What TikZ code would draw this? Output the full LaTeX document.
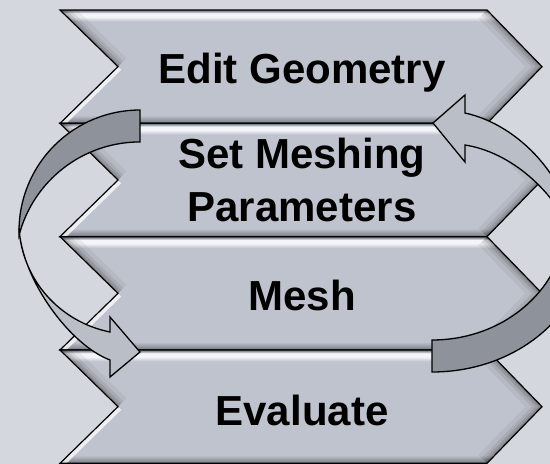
\documentclass[tikz,border=0pt]{standalone}
\usepackage{fontspec}
\setmainfont{Liberation Sans}
\usepackage{xcolor}
\definecolor{flowbg}{RGB}{212,215,222}
\definecolor{flowbody}{RGB}{191,195,205}
\definecolor{flowshine}{RGB}{243,245,250}
\definecolor{flowedge}{RGB}{150,154,163}
\definecolor{flowdark}{RGB}{112,116,124}
\definecolor{flowback}{RGB}{142,146,154}
\definecolor{flowfront}{RGB}{186,190,199}
\usepackage{tikz}
\usetikzlibrary{calc}
\pgfdeclareverticalshading{chevshade}{100bp}{color(0bp)=(flowdark); color(25bp)=(flowdark);
  color(26.6bp)=(flowedge); color(28.6bp)=(flowbody); color(70bp)=(flowbody);
  color(72bp)=(flowshine); color(73.6bp)=(flowshine); color(74.4bp)=(flowedge);
  color(75bp)=(flowdark); color(100bp)=(flowdark)}
\tikzset{
  chevron/.style ={shading=chevshade},
  outline/.style ={draw=black,line width=1.2pt,line join=miter},
  stage/.style   ={font=\fontsize{42}{53}\selectfont\bfseries,align=center,anchor=base},
  backface/.style={fill=flowback,draw=black,line width=1.3pt,line join=miter},
  frontface/.style={fill=flowfront,draw=black,line width=1.3pt,line join=miter},
}

\begin{document}
\begin{tikzpicture}[x=1pt,y=-1pt]
  \useasboundingbox (0,0) rectangle (550,464);
  \fill[flowbg] (0,0) rectangle (550,464);
  \clip (0,0) rectangle (550,464);
  % four stacked chevrons with a bevelled look
  \foreach \t in {10,123.33,236.67,350}{
    \def\chev{(60,\t) -- (487,\t) -- (542,\t+56.67) -- (487,\t+113.33) -- (60,\t+113.33) -- (118,\t+56.67) -- cycle}
    \shade[chevron] \chev;
    \begin{scope}
      \clip \chev;
      \foreach \w/\o in {24/0.05,15/0.07,9/0.1,4/0.14}{
        \draw[line width=\w pt,black,opacity=\o] (60,\t) -- (118,\t+56.67);
        \draw[line width=\w pt,black,opacity=\o] (487,\t) -- (542,\t+56.67) -- (487,\t+113.33);
      }
      \draw[line width=9pt,white,opacity=0.75] (60,\t+113.33) -- (118,\t+56.67);
    \end{scope}
    \draw[outline] \chev;
  }
  \node[stage] (edit) at (302,83) {Edit Geometry};
  \node[stage] (setmesh) at (302,221) {Set Meshing\\Parameters};
  \node[stage] (mesh) at (302,310) {Mesh};
  \node[stage] (evaluate) at (302,425) {Evaluate};
  % curved arrow on the left, going down
  \draw[backface] (140,110) arc[start angle=270,end angle=178,radius=121]
    arc[start angle=194.7,end angle=270,radius=125] -- cycle;
  \draw[frontface] (19,228) .. controls (22,280) and (70,345) .. (110,360) -- (110,377) -- (140,352)
    -- (110,317) -- (110,332) .. controls (60,322) and (22,280) .. (19,228) -- cycle;
  % curved arrow on the right, going back up
  \draw[backface] (432,340) -- (432,372) arc[start angle=90,end angle=0,x radius=155,y radius=132]
    -- (566,220) arc[start angle=0,end angle=90,x radius=134,y radius=120] -- cycle;
  \draw[frontface] (465,145) .. controls (510,152) and (555,190) .. (575,240)
    .. controls (570,180) and (520,125) .. (465,113) -- (465,95) -- (433,123) -- (465,162) -- cycle;
\end{tikzpicture}
\end{document}
